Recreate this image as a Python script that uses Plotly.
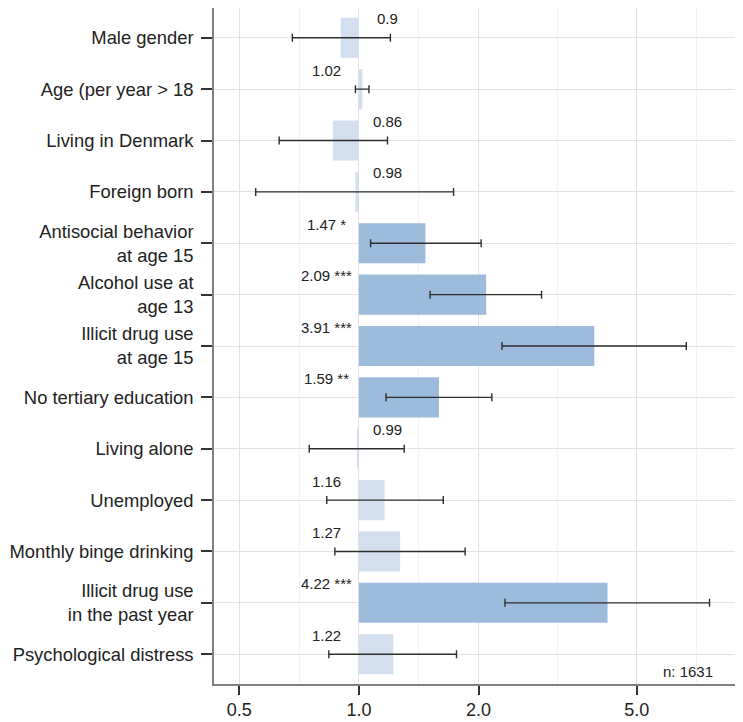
import numpy as np
import plotly.graph_objects as go

labels = ["Male gender", "Age (per year > 18", "Living in Denmark", "Foreign born",
          "Antisocial behavior<br>at age 15", "Alcohol use at<br>age 13",
          "Illicit drug use<br>at age 15", "No tertiary education", "Living alone",
          "Unemployed", "Monthly binge drinking", "Illicit drug use<br>in the past year",
          "Psychological distress"]
odds = [0.90, 1.02, 0.86, 0.98, 1.47, 2.09, 3.91, 1.59, 0.99, 1.16, 1.27, 4.22, 1.22]
ci_low = [0.68, 0.98, 0.63, 0.55, 1.07, 1.51, 2.29, 1.17, 0.75, 0.83, 0.87, 2.33, 0.84]
ci_high = [1.20, 1.06, 1.18, 1.73, 2.03, 2.88, 6.66, 2.16, 1.30, 1.63, 1.85, 7.62, 1.76]
stars = ["", "", "", "", "*", "***", "***", "**", "", "", "", "***", ""]
x_tickvals = [0.5, 1.0, 2.0, 5.0]
x_ticktext = ["0.5", "1.0", "2.0", "5.0"]
x_minor = [0.7071, 1.4142, 3.1623, 7.0711]
n_text = "n: 1631"
REF = 1.0

pos = list(range(len(labels)))
col_sig = "#9dbbdb"
col_ns = "#d3deee"
colors = [col_sig if s else col_ns for s in stars]
FONT = "Liberation Sans, Arial"

fig = go.Figure()
fig.add_trace(go.Bar(
    y=pos, x=[o - REF for o in odds], base=REF, orientation="h",
    marker=dict(color=colors, line=dict(width=0)), width=0.78,
    hoverinfo="skip", showlegend=False))
fig.add_trace(go.Scatter(
    y=pos, x=odds, mode="markers", marker=dict(size=1, opacity=0),
    error_x=dict(type="data", symmetric=False,
                 array=[h - o for h, o in zip(ci_high, odds)],
                 arrayminus=[o - l for o, l in zip(odds, ci_low)],
                 color="#2e2e2e", thickness=1.4, width=4),
    hoverinfo="skip", showlegend=False))

fig.add_shape(type="line", xref="x", yref="paper", x0=np.log10(REF), x1=np.log10(REF),
              y0=0, y1=1, line=dict(color="black", width=1.5, dash="6px,3px"), layer="above")

for p, o, s in zip(pos, odds, stars):
    txt = f"{o:g}" + (f" {s}" if s else "")
    fig.add_annotation(x=np.log10(REF), y=p, xref="x", yref="y", text=txt, showarrow=False,
                       xanchor="center", yanchor="middle",
                       xshift=(-32 if o >= REF else 29), yshift=19,
                       font=dict(family=FONT, size=15, color="#222222"))

fig.add_annotation(x=0.947, y=0.019, xref="paper", yref="paper", text=n_text, showarrow=False,
                   xanchor="right", yanchor="middle",
                   font=dict(family=FONT, size=15, color="#222222"))

fig.update_layout(
    width=735, height=714,
    margin=dict(l=206, r=0, t=0, b=38, autoexpand=False),
    paper_bgcolor="white", plot_bgcolor="white",
    font=dict(family=FONT, size=18.4, color="#222222"),
)
fig.update_xaxes(
    type="log", range=[np.log10(0.432), np.log10(9.25)],
    tickvals=x_tickvals, ticktext=x_ticktext,
    showgrid=True, gridcolor="#e2e2e2", gridwidth=1.2,
    minor=dict(tickmode="array", tickvals=x_minor, showgrid=True, gridcolor="#f3f3f3",
               gridwidth=1, ticks=""),
    ticks="outside", ticklen=9, tickwidth=2.2, tickcolor="#333333",
    showline=True, linecolor="#808080", linewidth=1.5, mirror=True,
    zeroline=False, automargin=False, tickfont=dict(size=18, color="#222222"),
)
fig.update_yaxes(
    range=[12.58, -0.58], tickvals=pos, ticktext=labels,
    showgrid=True, gridcolor="#e2e2e2", gridwidth=1.2,
    ticks="outside", ticklen=11, tickwidth=2.2, tickcolor="#333333",
    showline=True, linecolor="#808080", linewidth=1.5, mirror=False,
    zeroline=False, automargin=False, ticklabelstandoff=4,
    tickfont=dict(size=18.4, color="#222222"),
)

fig.write_html("out.html")
